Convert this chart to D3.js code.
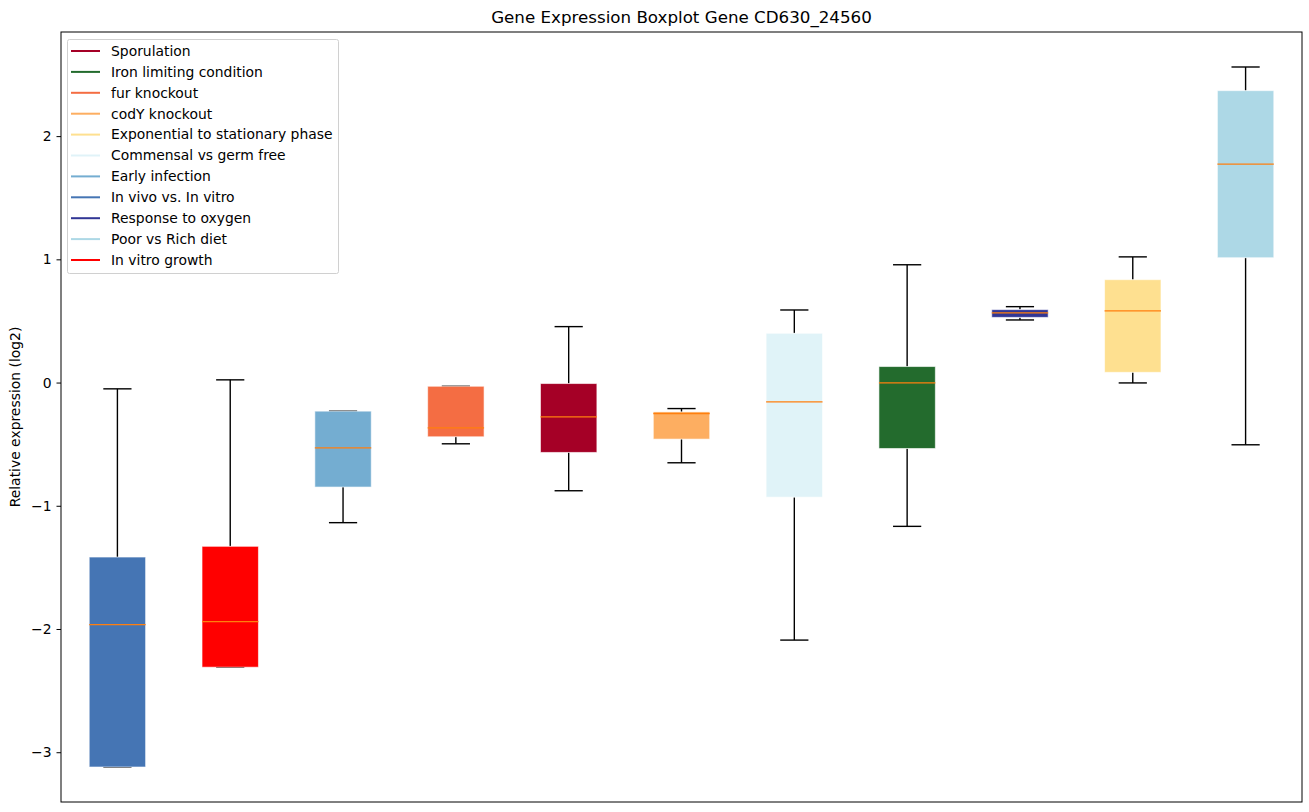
<!DOCTYPE html>
<html>
<head>
<meta charset="utf-8">
<script src="https://cdn.jsdelivr.net/npm/d3@7"></script>
<style>
  body { margin: 0; background: #fff; }
  text { font-family: "DejaVu Sans", sans-serif; }
</style>
</head>
<body>
<div id="chart"></div>
<script>
// Box order along x, left to right
const groups = ["In vivo vs. In vitro", "In vitro growth", "Early infection", "fur knockout",
    "Sporulation", "codY knockout", "Commensal vs germ free", "Iron limiting condition",
    "Response to oxygen", "Exponential to stationary phase", "Poor vs Rich diet"];
const whiskerLow = [-3.12, -2.31, -1.137, -0.497, -0.878, -0.651, -2.09, -1.167, 0.508, -0.003, -0.505];
const q1 = [-3.12, -2.31, -0.848, -0.44, -0.567, -0.459, -0.93, -0.535, 0.529, 0.083, 1.013];
const medians = [-1.964, -1.94, -0.53, -0.367, -0.278, -0.251, -0.156, -0.003, 0.565, 0.581, 1.772];
const q3 = [-1.416, -1.329, -0.232, -0.03, -0.008, -0.238, 0.40, 0.13, 0.592, 0.835, 2.369];
const whiskerHigh = [-0.051, 0.022, -0.232, -0.03, 0.454, -0.211, 0.589, 0.956, 0.616, 1.02, 2.561];
const boxColors = ["#4575b4", "#ff0000", "#74add1", "#f46d43", "#a50026", "#fdae61",
    "#e0f3f8", "#236b2d", "#313695", "#fee090", "#add8e6"];

// Legend order
const legendNames = ["Sporulation", "Iron limiting condition", "fur knockout", "codY knockout",
    "Exponential to stationary phase", "Commensal vs germ free", "Early infection",
    "In vivo vs. In vitro", "Response to oxygen", "Poor vs Rich diet", "In vitro growth"];
const yTicks = [-3, -2, -1, 0, 1, 2];

const svgWidth = 1309, svgHeight = 812;
const margin = { top: 32, right: 7, bottom: 10, left: 61 };
const fontSize = 13.9;

const svg = d3.select("#chart")
    .append("svg")
    .attr("width", svgWidth)
    .attr("height", svgHeight);

const x = d3.scaleBand()
    .domain(groups)
    .range([margin.left, svgWidth - margin.right]);

const y = d3.scaleLinear()
    .domain([-3.404, 2.845])
    .range([svgHeight - margin.bottom, margin.top]);

const bw = x.bandwidth() * 0.5;
const cx = g => x(g) + x.bandwidth() / 2;

// Whiskers and caps (drawn under boxes)
const wh = svg.append("g");
groups.forEach((g, i) => {
    wh.append("line")
        .attr("x1", cx(g)).attr("x2", cx(g))
        .attr("y1", y(q3[i])).attr("y2", y(whiskerHigh[i]))
        .attr("stroke", "black").attr("stroke-width", 1.4);
    wh.append("line")
        .attr("x1", cx(g)).attr("x2", cx(g))
        .attr("y1", y(q1[i])).attr("y2", y(whiskerLow[i]))
        .attr("stroke", "black").attr("stroke-width", 1.4);
    [whiskerHigh[i], whiskerLow[i]].forEach(v => {
        wh.append("line")
            .attr("x1", cx(g) - bw / 4).attr("x2", cx(g) + bw / 4)
            .attr("y1", y(v)).attr("y2", y(v))
            .attr("stroke", "black").attr("stroke-width", 1.4);
    });
});

// Boxes
svg.append("g")
    .selectAll("rect")
    .data(groups)
    .enter().append("rect")
    .attr("x", g => cx(g) - bw / 2)
    .attr("width", bw)
    .attr("y", (g, i) => y(q3[i]))
    .attr("height", (g, i) => Math.max(1, y(q1[i]) - y(q3[i])))
    .attr("fill", (g, i) => boxColors[i])
    .attr("stroke", "white")
    .attr("stroke-opacity", 0.6)
    .attr("stroke-width", 1);

// Medians
svg.append("g")
    .selectAll("line")
    .data(groups)
    .enter().append("line")
    .attr("x1", g => cx(g) - bw / 2)
    .attr("x2", g => cx(g) + bw / 2)
    .attr("y1", (g, i) => y(medians[i]))
    .attr("y2", (g, i) => y(medians[i]))
    .attr("stroke", "#ff7f0e")
    .attr("stroke-width", 1.3);

// Frame
svg.append("rect")
    .attr("x", margin.left).attr("y", margin.top)
    .attr("width", svgWidth - margin.right - margin.left)
    .attr("height", svgHeight - margin.bottom - margin.top)
    .attr("fill", "none").attr("stroke", "black").attr("stroke-width", 1);

// Y axis
const yAxis = svg.append("g")
    .attr("transform", `translate(${margin.left}, 0)`)
    .call(d3.axisLeft(y).tickValues(yTicks).tickSize(4.5).tickPadding(5)
        .tickFormat(d => d < 0 ? "\u2212" + Math.abs(d) : d));
yAxis.select(".domain").remove();
yAxis.selectAll("text").attr("font-size", fontSize).attr("font-family", "DejaVu Sans, sans-serif").attr("fill", "black");
yAxis.selectAll("line").attr("stroke", "black");

// Y axis label
svg.append("text")
    .attr("transform", `translate(20, ${(margin.top + svgHeight - margin.bottom) / 2}) rotate(-90)`)
    .style("text-anchor", "middle")
    .attr("font-size", fontSize)
    .text("Relative expression (log2)");

// Title
svg.append("text")
    .attr("x", (margin.left + svgWidth - margin.right) / 2)
    .attr("y", 23)
    .style("text-anchor", "middle")
    .attr("font-size", 16.7)
    .text("Gene Expression Boxplot Gene CD630_24560");

// Legend
const colorOf = name => boxColors[groups.indexOf(name)];
const legendG = svg.append("g");
legendG.append("rect")
    .attr("x", 67.5).attr("y", 39.5)
    .attr("width", 271).attr("height", 234)
    .attr("rx", 2)
    .attr("fill", "white").attr("fill-opacity", 0.8)
    .attr("stroke", "#d0d0d0");

const legend = legendG.selectAll("g")
    .data(legendNames)
    .enter().append("g")
    .attr("transform", (d, i) => `translate(71, ${51 + i * 20.9})`);

legend.append("line")
    .attr("x1", 0).attr("x2", 29)
    .attr("stroke", d => colorOf(d))
    .attr("stroke-width", 2);

legend.append("text")
    .attr("x", 40)
    .attr("dy", "0.35em")
    .attr("font-size", fontSize)
    .text(d => d);
</script>
</body>
</html>
